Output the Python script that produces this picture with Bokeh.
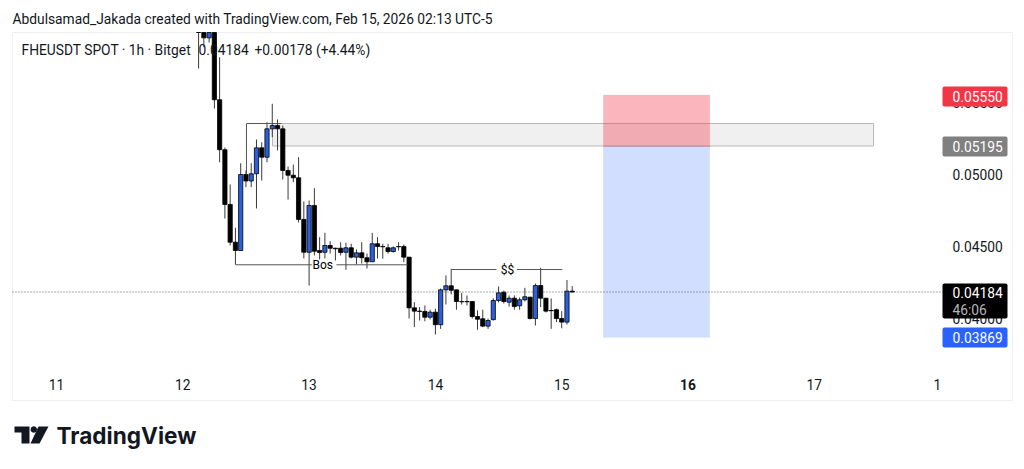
from bokeh.plotting import figure
from bokeh.embed import file_html
from bokeh.resources import INLINE
from bokeh.models import Label, BoxAnnotation, PolyAnnotation, FixedTicker, NumeralTickFormatter
import numpy as np

# hourly candles, hours counted from Feb 11 00:00
# the first candles run off the top of the chart, they stop at the visible top price
first_hour = 27
opens = [.05986,.05986,.05949,.05986,.05519,.05172,.04792,.04530,.04472,.05000,.04955,.05005,
         .05185,.05120,.05317,.05340,.05317,.05028,.04995,.04977,.04688,.04460,.04785,.04472,
         .04460,.04507,.04488,.04488,.04460,.04491,.04426,.04456,.04422,.04394,.04519,.04500,
         .04491,.04465,.04500,.04500,.04426,.04074,.04051,.04049,.04009,.04044,.03957,.04199,
         .04227,.04199,.04118,.04118,.04118,.04014,.03998,.03947,.03992,.04125,.04182,.04113,
         .04141,.04088,.04130,.04148,.04000,.04229,.04141,.04056,.04061,.04000,.03975,.04190]
closes = [.05986,.05949,.05986,.05519,.05172,.04792,.04530,.04472,.05000,.04955,.05005,.05185,
          .05120,.05317,.05340,.05317,.05028,.04995,.04977,.04688,.04460,.04785,.04467,.04458,
          .04507,.04488,.04484,.04458,.04491,.04426,.04456,.04422,.04394,.04519,.04500,.04498,
          .04465,.04491,.04498,.04426,.04074,.04051,.04049,.04009,.04044,.03957,.04199,.04227,
          .04196,.04118,.04116,.04116,.04014,.03995,.03947,.03986,.04125,.04178,.04118,.04141,
          .04083,.04130,.04151,.04000,.04229,.04141,.04051,.04054,.04000,.03975,.04190,.04184]
highs = [.05986,.05986,.05986,.05986,.05815,.05187,.04931,.04630,.05078,.05028,.05078,.05243,
         .05224,.05363,.05491,.05382,.05340,.05056,.05069,.05120,.04813,.04819,.04905,.04565,
         .04595,.04537,.04492,.04530,.04526,.04519,.04479,.04530,.04451,.04595,.04565,.04519,
         .04519,.04500,.04530,.04514,.04426,.04113,.04079,.04090,.04061,.04068,.04208,.04299,
         .04345,.04199,.04178,.04160,.04118,.04056,.04061,.04000,.04141,.04222,.04194,.04160,
         .04160,.04146,.04213,.04151,.04243,.04352,.04141,.04139,.04069,.04051,.04267,.04225]
lows = [.05736,.05884,.05917,.05458,.05085,.04694,.04507,.04373,.04472,.04912,.04912,.04764,
        .04958,.05085,.05259,.05167,.04965,.04826,.04947,.04667,.04417,.04229,.04438,.04410,
        .04417,.04451,.04403,.04438,.04338,.04417,.04375,.04382,.04347,.04394,.04417,.04415,
        .04450,.04458,.04472,.04391,.04000,.03940,.03986,.03981,.03993,.03889,.03928,.04097,
        .04167,.04061,.04097,.04090,.04000,.03922,.03940,.03928,.03986,.04111,.04104,.04083,
        .04061,.04061,.04118,.03993,.03951,.04079,.04042,.03928,.03975,.03932,.03958,.04181]

day_ticks = [0, 24, 48, 72, 96, 144, 167.4]
day_labels = ["11", "12", "13", "14", "15", "17", "1"]
today_hour = 120
today_label = "16"
price_ticks = [0.040, 0.045, 0.050, 0.055]

last_price = 0.04184
stop_price = 0.05550
entry_price = 0.05195
target_price = 0.03869

FONT = "Roboto"
INK = "#131722"
TEXT_SIZE = "13.8px"
CHART_LEFT, CHART_RIGHT = -8.36, 181.66
CHART_TOP, CHART_BOTTOM = 0.05986, 0.034306
SCALE_HOUR = 168.17
AXIS_PRICE = 0.03625

hours = [first_hour + i for i in range(len(opens))]
colors = ["#2b5fdc" if c >= o else "#000000" for o, c in zip(opens, closes)]

# the frame fills the page, annotations get clipped to it
p = figure(width=1024, height=469, output_backend="svg", toolbar_location=None,
           x_range=(-10.641, 183.94), y_range=(0.029514, 0.062083),
           y_axis_location="right",
           min_border_left=0, min_border_right=0, min_border_top=0, min_border_bottom=0)
p.outline_line_color = None
p.xgrid.grid_line_color = None
p.ygrid.grid_line_color = None

for ax in [p.xaxis[0], p.yaxis[0]]:
    ax.axis_line_color = None
    ax.major_tick_line_color = None
    ax.minor_tick_line_color = None
    ax.major_tick_out = 0
    ax.major_label_text_font = FONT
    ax.major_label_text_font_size = TEXT_SIZE
    ax.major_label_text_color = INK
p.xaxis[0].fixed_location = AXIS_PRICE
p.xaxis[0].ticker = FixedTicker(ticks=day_ticks)
p.xaxis[0].major_label_overrides = dict(zip(day_ticks, day_labels))
p.xaxis[0].major_label_standoff = 6
p.yaxis[0].fixed_location = SCALE_HOUR
p.yaxis[0].ticker = FixedTicker(ticks=price_ticks)
p.yaxis[0].formatter = NumeralTickFormatter(format="0.00000")
p.yaxis[0].major_label_standoff = 11

# chart border
p.quad(left=CHART_LEFT, right=CHART_RIGHT, top=CHART_TOP, bottom=CHART_BOTTOM, fill_color=None,
       line_color="#eceef2", line_width=1)

# supply zone
p.quad(left=41.04, right=155.25, top=0.05354, bottom=0.05198, fill_color="#f0f0f0",
       line_color="#b8b8b8", line_width=1)
# long position
p.quad(left=103.95, right=124.1, top=stop_price, bottom=entry_price, fill_color="#f23645",
       fill_alpha=0.36, line_color="#f23645", line_alpha=0.15)
p.quad(left=103.95, right=124.1, top=entry_price, bottom=target_price, fill_color="#2962ff",
       fill_alpha=0.21, line_color="#2962ff", line_alpha=0.08)

p.line([CHART_LEFT, SCALE_HOUR], [last_price, last_price], line_color="#555555", line_width=1, line_dash=[1, 2])

p.segment(hours, highs, hours, lows, line_color="#3a3a3a", line_width=1)
p.vbar(x=hours, width=0.8, top=opens, bottom=closes, fill_color=colors, line_color="#000000", line_width=0.8)

# hand drawn structure lines
line_color = "#555555"
p.line([36.1, 36.1, 42.7], [0.05000, 0.05354, 0.05354], line_color=line_color, line_width=1)
p.line([34.1, 48.5], [0.04373, 0.04373], line_color=line_color, line_width=1)
p.line([53.2, 66.7], [0.04373, 0.04373], line_color=line_color, line_width=1)
p.line([75.06, 83.6], [0.04340, 0.04340], line_color=line_color, line_width=1)
p.line([87.5, 96.1], [0.04340, 0.04340], line_color=line_color, line_width=1)
for text, hx, py in [("Bos", 50.6, 0.04373), ("$$", 85.7, 0.04340)]:
    p.add_layout(Label(x=hx, y=py, text=text, text_font=FONT, text_font_size="12px", text_font_style="normal",
                       text_color="#000000", text_align="center", text_baseline="middle"))

# screen units run up from the bottom of the frame
def sy(y):
    return 469 - y

def text_label(x, y, text, size=TEXT_SIZE, color=INK, style="normal", font=FONT):
    p.add_layout(Label(x=x, y=sy(y), x_units="screen", y_units="screen", text=text, text_font=font,
                       text_font_size=size, text_color=color, text_font_style=style,
                       text_baseline="middle", level="overlay"))

text_label(12, 18, "Abdulsamad_Jakada created with TradingView.com, Feb 15, 2026 02:13 UTC-5")
text_label(21, 49, "FHEUSDT SPOT \u00b7 1h \u00b7 Bitget")
text_label(198, 49, "0.04184")
text_label(254, 49, "+0.00178 (+4.44%)")

p.add_layout(Label(x=today_hour, y=sy(384), y_units="screen", text=today_label, text_font=FONT,
                   text_font_size=TEXT_SIZE, text_font_style="bold", text_color=INK,
                   text_align="center", text_baseline="middle"))

# price badges on the scale
def badge(top, bottom, color):
    p.add_layout(BoxAnnotation(left=942, right=1007, top=sy(top), bottom=sy(bottom), left_units="screen",
                               right_units="screen", top_units="screen", bottom_units="screen",
                               fill_color=color, fill_alpha=1, line_color=None, border_radius=2, level="overlay"))

badge(86, 106, "#f23645")
badge(136, 156, "#808080")
badge(283, 318, "#000000")
badge(327, 347, "#2962ff")
text_label(952, 96, f"{stop_price:.5f}", color="#ffffff")
text_label(952, 146, f"{entry_price:.5f}", color="#ffffff")
text_label(952, 292, f"{last_price:.5f}", color="#ffffff")
text_label(952, 309, "46:06", color="#b2b5be")
text_label(952, 337, f"{target_price:.5f}", color="#ffffff")

# logo
logo_shapes = [
    ([14, 29, 29, 21, 21, 14], [426, 426, 443, 443, 432, 432]),
    ([38, 48, 39, 30], [426, 426, 443, 443]),
]
for xs, ys in logo_shapes:
    p.add_layout(PolyAnnotation(xs=xs, ys=[sy(y) for y in ys], xs_units="screen", ys_units="screen",
                                fill_color="#131722", fill_alpha=1, line_color=None, level="overlay"))
angles = np.linspace(0, 2 * np.pi, 16)
p.add_layout(PolyAnnotation(xs=list(33.3 + 3.2 * np.cos(angles)), ys=list(sy(429) + 3.2 * np.sin(angles)),
                            xs_units="screen", ys_units="screen", fill_color="#131722", fill_alpha=1,
                            line_color=None, level="overlay"))
text_label(56, 435, "TradingView", size="22.6px", style="bold", font="Inter", color="#131722")

open("out.html", "w").write(file_html(p, INLINE))
